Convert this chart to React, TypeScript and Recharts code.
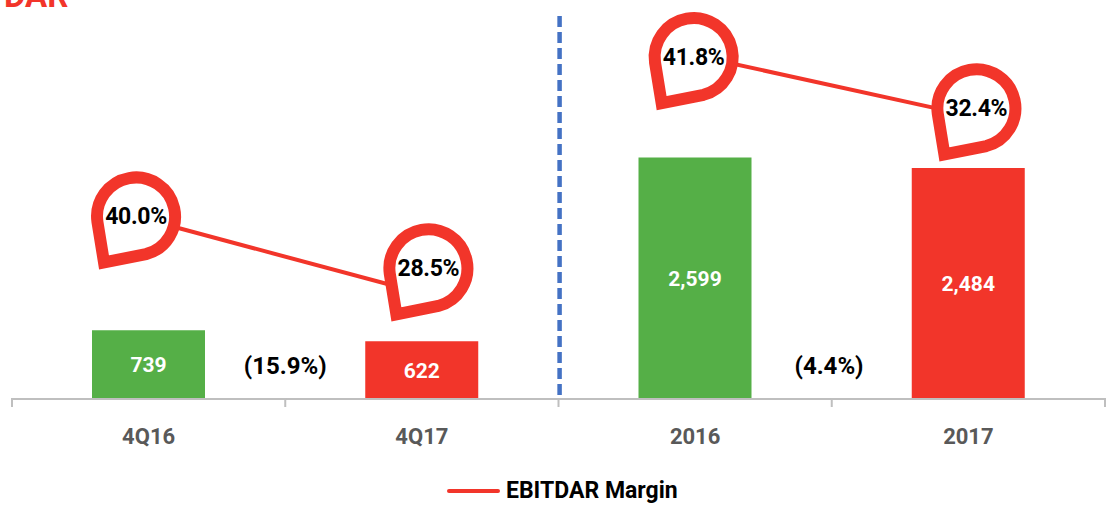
import React from 'react';
import { ComposedChart, Bar, Line, XAxis, YAxis, Cell, LabelList, ReferenceLine, ReferenceDot, Legend } from 'recharts';

const categories = ['4Q16', '4Q17', '2016', '2017'];
const ebitdar = [739, 622, 2599, 2484];
const marginQuarter = [40.0, 28.5, null, null];
const marginYear = [null, null, 41.8, 32.4];
const barColorNames = ['green', 'red', 'green', 'red'];
const changeLabels = ['(15.9%)', '(4.4%)'];

const RED = '#F2352A';
const GREEN = '#55AF47';
const BLUE = '#4472C4';
const AXIS = '#BFBFBF';
const GRAY = '#595959';
const FONT = 'Roboto, sans-serif';
const W = 1120;
const H = 506;
const M = { top: 15, right: 15, bottom: 39, left: 12 };
const BAND = (W - M.left - M.right) / categories.length;
// offset of each pin's head from the line point it marks
const PIN_OFFSET = [[-12.6, -3.6], [6.5, -25], [-1.5, 1.6], [8, -7]];
// The hidden position axis runs 0..3 across the plot width, so band boundaries sit at multiples of 0.75
const DIVIDER_POS = 1.503;
const CHANGE_POS = [0.75, 2.2425];

const data = categories.map((c, i) => ({
  name: c,
  ebitdar: ebitdar[i],
  marginQuarter: marginQuarter[i],
  marginYear: marginYear[i],
}));

const PIN_PATH = 'M -32 46 L -38.6 5.4 A 39 39 0 1 1 9.9 37.7 Z';

function Pin(props: any) {
  const { cx, cy, index, value } = props;
  if (cx == null || cy == null || value == null) return null;
  const v = Array.isArray(value) ? value[1] : value;
  const [dx, dy] = PIN_OFFSET[index];
  return (
    <g key={index} transform={`translate(${cx + dx},${cy + dy})`}>
      <path d={PIN_PATH} fill="#fff" stroke={RED} strokeWidth={12} strokeMiterlimit={10} strokeLinejoin="miter" />
      <text x={0} y={0} textAnchor="middle" dominantBaseline="central" fontFamily={FONT} fontWeight={700} fontSize={23} fill="#000" letterSpacing={-0.3}>
        {v.toFixed(1)}%
      </text>
    </g>
  );
}

function PeriodTick(props: any) {
  const { x, payload, index } = props;
  const tickY = 398;
  return (
    <g>
      <line x1={x - BAND / 2} x2={x - BAND / 2} y1={tickY} y2={tickY + 9} stroke={AXIS} strokeWidth={2} />
      {index === categories.length - 1 && (
        <line x1={x + BAND / 2} x2={x + BAND / 2} y1={tickY} y2={tickY + 9} stroke={AXIS} strokeWidth={2} />
      )}
      <text x={x} y={436} textAnchor="middle" dominantBaseline="central" fontFamily={FONT} fontWeight={700} fontSize={22} fill={GRAY}>
        {payload.value}
      </text>
    </g>
  );
}

function LegendBody() {
  return (
    <div style={{ display: 'flex', alignItems: 'center', fontFamily: FONT, fontWeight: 700, fontSize: 23, color: '#000', lineHeight: '28px' }}>
      <span style={{ display: 'inline-block', width: 53, height: 4, borderRadius: 2, background: RED, marginRight: 6 }} />
      EBITDAR Margin
    </div>
  );
}

function ChangeLabel(props: any) {
  const { viewBox, text } = props;
  const cx = viewBox.x + (viewBox.width || 0) / 2;
  const cy = viewBox.y + (viewBox.height || 0) / 2;
  return (
    <text x={cx} y={cy} textAnchor="middle" dominantBaseline="central" fontFamily={FONT} fontWeight={700} fontSize={24} fill="#000">
      {text}
    </text>
  );
}

export default function App() {
  return (
    <div style={{ position: 'absolute', left: 0, top: 0, width: W, height: H, overflow: 'hidden', background: '#fff' }}>
      <div style={{ position: 'absolute', left: 4, top: -21, fontFamily: FONT, fontWeight: 700, fontSize: 33, lineHeight: '33px', color: RED }}>DAR</div>
      <ComposedChart width={W} height={H} data={data} margin={M} style={{ position: 'absolute', left: 0, top: 0 }}>
        <XAxis dataKey="name" xAxisId="cat" axisLine={{ stroke: AXIS, strokeWidth: 2 }} tickLine={false} tick={PeriodTick} interval={0} height={40} />
        <XAxis xAxisId="pos" type="number" domain={[0, 3]} hide />
        <YAxis yAxisId="bars" domain={[0, 4131]} hide />
        <YAxis yAxisId="quarter" domain={[11.9, 72.2]} hide />
        <YAxis yAxisId="year" domain={[-12.16, 48.16]} hide />
        <ReferenceLine xAxisId="pos" yAxisId="bars" x={DIVIDER_POS} stroke={BLUE} strokeWidth={4.5} strokeDasharray="11 5" strokeDashoffset={-4} />
        <Bar dataKey="ebitdar" xAxisId="cat" yAxisId="bars" barSize={113} isAnimationActive={false}>
          {barColorNames.map((c, i) => (
            <Cell key={i} fill={c === 'green' ? GREEN : RED} />
          ))}
          <LabelList dataKey="ebitdar" position="center" formatter={(v: any) => Number(v).toLocaleString('en-US')} fill="#fff" fontFamily={FONT} fontWeight={700} fontSize={21} />
        </Bar>
        <Line dataKey="marginQuarter" name="EBITDAR Margin" xAxisId="cat" yAxisId="quarter" stroke={RED} strokeWidth={4} dot={Pin} activeDot={false} connectNulls={false} isAnimationActive={false} />
        <Line dataKey="marginYear" name="EBITDAR Margin" xAxisId="cat" yAxisId="year" stroke={RED} strokeWidth={4} dot={Pin} activeDot={false} connectNulls={false} isAnimationActive={false} />
        <ReferenceDot xAxisId="pos" yAxisId="bars" x={CHANGE_POS[0]} y={356} r={0} fill="none" stroke="none" label={<ChangeLabel text={changeLabels[0]} />} />
        <ReferenceDot xAxisId="pos" yAxisId="bars" x={CHANGE_POS[1]} y={356} r={0} fill="none" stroke="none" label={<ChangeLabel text={changeLabels[1]} />} />
        <Legend content={<LegendBody />} wrapperStyle={{ position: 'absolute', left: 447, top: 477, width: 260, bottom: 'auto' }} />
      </ComposedChart>
    </div>
  );
}
